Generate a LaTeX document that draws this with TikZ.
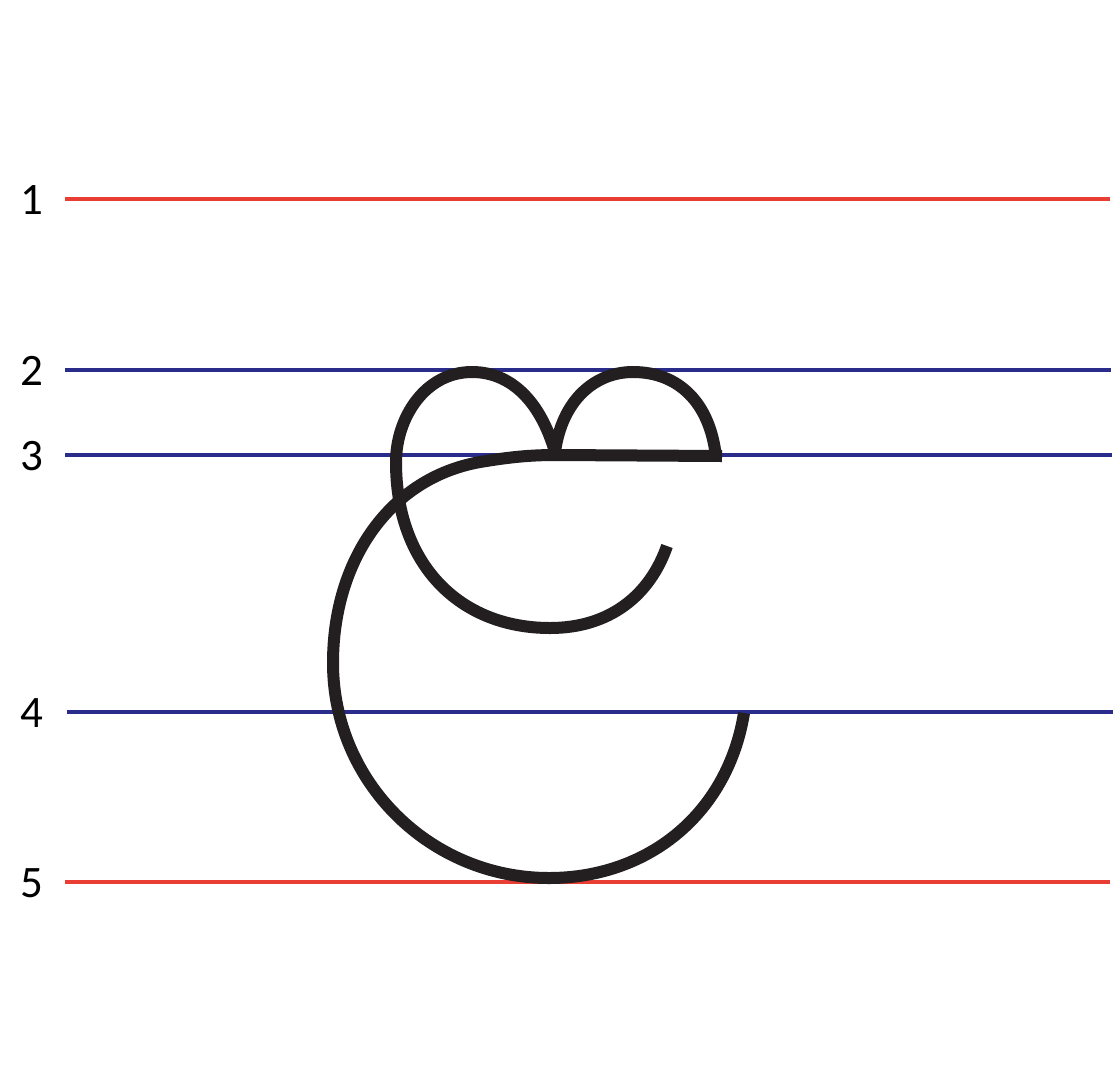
\documentclass[tikz,border=0pt]{standalone}
\usepackage{fontspec}
\setmainfont{Carlito}
\begin{document}
\begin{tikzpicture}[x=1pt,y=-1pt,
  redline/.style={draw={rgb,255:red,232;green,62;blue,52}, line width=3.5pt},
  blueline/.style={draw={rgb,255:red,42;green,44;blue,140}, line width=3.2pt},
  glyph/.style={draw={rgb,255:red,35;green,31;blue,32}, line width=12pt, line cap=butt, line join=round},
  num/.style={font=\fontsize{45}{50}\selectfont, inner sep=0pt, anchor=center}]
\useasboundingbox[fill=white] (0,0) rectangle (1118,1080);
% labels
\node[num] (l1) at (32,200) {1};
\node[num] (l2) at (32,371) {2};
\node[num] (l3) at (32,456) {3};
\node[num] (l4) at (32,713) {4};
\node[num] (l5) at (32,883) {5};
% guide lines
\draw[redline] (65,199) -- (1110,199);
\draw[blueline] (65,370) -- (1111,370);
\draw[blueline] (65,455) -- (1112,455);
\draw[blueline] (67,712) -- (1113,712);
\draw[redline] (65,882) -- (1110,882);
% outer stroke
\draw[glyph] (744,713) .. controls (728,812) and (650,878) .. (549,878)
  .. controls (430,878) and (333,782) .. (333,663)
  .. controls (333,560) and (390,478) .. (480,462)
  .. controls (510,457) and (530,455) .. (556,455)
  -- (722,456);
% upper loops
\draw[glyph] (667,546) .. controls (650,595) and (610,628) .. (550,628)
  .. controls (460,628) and (396,565) .. (396,462)
  .. controls (396,418) and (425,372) .. (472,372)
  .. controls (510,372) and (540,400) .. (555,452)
  .. controls (562,400) and (595,372) .. (633,372)
  .. controls (678,372) and (710,402) .. (716,457);
\end{tikzpicture}
\end{document}
